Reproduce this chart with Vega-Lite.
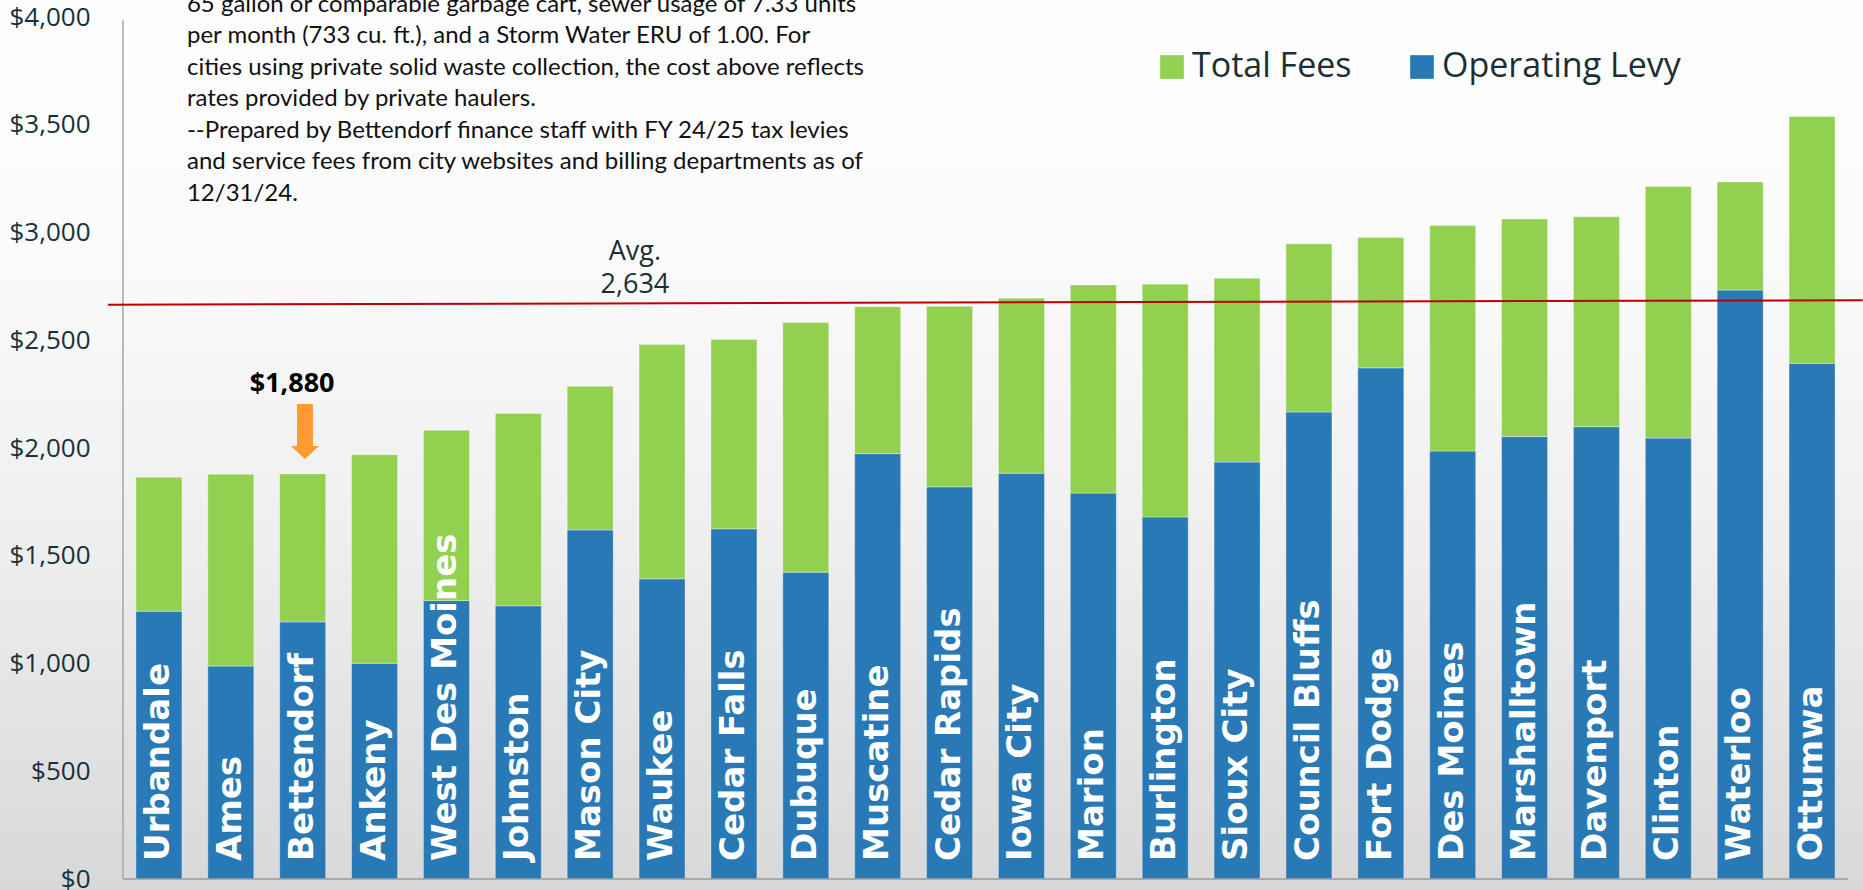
{
  "$schema": "https://vega.github.io/schema/vega-lite/v6.json",
  "width": 1863,
  "height": 890,
  "autosize": {"type": "none"},
  "padding": 0,
  "background": "#eeeeee",
  "config": {
    "view": {
      "stroke": null,
      "fill": {"gradient": "linear", "x1": 0, "y1": 0, "x2": 0, "y2": 1,
        "stops": [{"offset": 0, "color": "#fefefe"}, {"offset": 0.3, "color": "#fafafa"}, {"offset": 0.6, "color": "#efefef"}, {"offset": 1, "color": "#d8d8d8"}]}
    }
  },
  "datasets": {
    "costs": [
      {"city": "Urbandale", "component": "Operating Levy", "value": 1243},
      {"city": "Urbandale", "component": "Total Fees", "value": 621},
      {"city": "Ames", "component": "Operating Levy", "value": 988},
      {"city": "Ames", "component": "Total Fees", "value": 890},
      {"city": "Bettendorf", "component": "Operating Levy", "value": 1193},
      {"city": "Bettendorf", "component": "Total Fees", "value": 687},
      {"city": "Ankeny", "component": "Operating Levy", "value": 1001},
      {"city": "Ankeny", "component": "Total Fees", "value": 968},
      {"city": "West Des Moines", "component": "Operating Levy", "value": 1292},
      {"city": "West Des Moines", "component": "Total Fees", "value": 790},
      {"city": "Johnston", "component": "Operating Levy", "value": 1268},
      {"city": "Johnston", "component": "Total Fees", "value": 892},
      {"city": "Mason City", "component": "Operating Levy", "value": 1620},
      {"city": "Mason City", "component": "Total Fees", "value": 667},
      {"city": "Waukee", "component": "Operating Levy", "value": 1393},
      {"city": "Waukee", "component": "Total Fees", "value": 1087},
      {"city": "Cedar Falls", "component": "Operating Levy", "value": 1625},
      {"city": "Cedar Falls", "component": "Total Fees", "value": 879},
      {"city": "Dubuque", "component": "Operating Levy", "value": 1424},
      {"city": "Dubuque", "component": "Total Fees", "value": 1158},
      {"city": "Muscatine", "component": "Operating Levy", "value": 1974},
      {"city": "Muscatine", "component": "Total Fees", "value": 682},
      {"city": "Cedar Rapids", "component": "Operating Levy", "value": 1820},
      {"city": "Cedar Rapids", "component": "Total Fees", "value": 838},
      {"city": "Iowa City", "component": "Operating Levy", "value": 1883},
      {"city": "Iowa City", "component": "Total Fees", "value": 812},
      {"city": "Marion", "component": "Operating Levy", "value": 1791},
      {"city": "Marion", "component": "Total Fees", "value": 966},
      {"city": "Burlington", "component": "Operating Levy", "value": 1680},
      {"city": "Burlington", "component": "Total Fees", "value": 1080},
      {"city": "Sioux City", "component": "Operating Levy", "value": 1935},
      {"city": "Sioux City", "component": "Total Fees", "value": 853},
      {"city": "Council Bluffs", "component": "Operating Levy", "value": 2167},
      {"city": "Council Bluffs", "component": "Total Fees", "value": 781},
      {"city": "Fort Dodge", "component": "Operating Levy", "value": 2372},
      {"city": "Fort Dodge", "component": "Total Fees", "value": 605},
      {"city": "Des Moines", "component": "Operating Levy", "value": 1986},
      {"city": "Des Moines", "component": "Total Fees", "value": 1046},
      {"city": "Marshalltown", "component": "Operating Levy", "value": 2053},
      {"city": "Marshalltown", "component": "Total Fees", "value": 1010},
      {"city": "Davenport", "component": "Operating Levy", "value": 2099},
      {"city": "Davenport", "component": "Total Fees", "value": 974},
      {"city": "Clinton", "component": "Operating Levy", "value": 2046},
      {"city": "Clinton", "component": "Total Fees", "value": 1167},
      {"city": "Waterloo", "component": "Operating Levy", "value": 2733},
      {"city": "Waterloo", "component": "Total Fees", "value": 502},
      {"city": "Ottumwa", "component": "Operating Levy", "value": 2393},
      {"city": "Ottumwa", "component": "Total Fees", "value": 1145}
    ]
  },
  "data": {"name": "costs"},
  "layer": [
    {
      "mark": {"type": "bar", "stroke": "#ffffff", "strokeWidth": 1, "strokeOpacity": 0.35},
      "encoding": {
        "x": {"field": "city", "type": "nominal", "sort": null,
          "scale": {"domain": ["Urbandale","Ames","Bettendorf","Ankeny","West Des Moines","Johnston","Mason City","Waukee","Cedar Falls","Dubuque","Muscatine","Cedar Rapids","Iowa City","Marion","Burlington","Sioux City","Council Bluffs","Fort Dodge","Des Moines","Marshalltown","Davenport","Clinton","Waterloo","Ottumwa"],
            "range": [123, 1848], "paddingInner": 0.36, "paddingOuter": 0.18, "align": 0.5, "round": false},
          "axis": null},
        "y": {"field": "value", "type": "quantitative", "stack": "zero",
          "scale": {"domain": [-51, 4079], "nice": false, "zero": false},
          "axis": {"values": [0,500,1000,1500,2000,2500,3000,3500,4000], "format": "$,.0f", "title": null,
            "offset": -123, "domain": false, "grid": false, "ticks": false, "tickSize": 0, "labelPadding": 33,
            "labelFont": "Open Sans", "labelFontSize": 26, "labelColor": "#17323a"}},
        "color": {"field": "component", "type": "nominal",
          "scale": {"domain": ["Total Fees", "Operating Levy"], "range": ["#92d050", "#2879b5"]},
          "legend": {"title": null, "orient": "none", "legendX": 1155, "legendY": 50, "direction": "horizontal",
            "symbolType": "square", "symbolSize": 560, "symbolStrokeWidth": 0, "symbolOpacity": 1,
            "labelFont": "Open Sans", "labelFontSize": 34, "labelColor": "#1a3035", "labelOffset": 3, "labelLimit": 500,
            "columnPadding": 53, "padding": 0}},
        "order": {"field": "component", "sort": "ascending"}
      }
    },
    {
      "transform": [{"filter": "datum.component == 'Operating Levy'"}],
      "mark": {"type": "text", "angle": 270, "align": "left", "baseline": "middle", "font": "DejaVu Sans", "fontWeight": "bold", "fontSize": 34, "color": "#ffffff"},
      "encoding": {
        "x": {"field": "city", "type": "nominal", "sort": null, "bandPosition": 0.5},
        "y": {"datum": 84, "type": "quantitative"},
        "text": {"field": "city"}
      }
    },
    {
      "data": {"values": [{}]},
      "mark": {"type": "rule", "color": "#a6a6a6", "strokeWidth": 1.5},
      "encoding": {
        "x": {"datum": "Urbandale", "type": "nominal", "bandPosition": -0.283},
        "y": {"datum": 0, "type": "quantitative"},
        "y2": {"datum": 3985}
      }
    },
    {
      "data": {"values": [{}]},
      "mark": {"type": "rule", "color": "#9a9a9a", "strokeWidth": 1.5},
      "encoding": {
        "x": {"datum": "Urbandale", "type": "nominal", "bandPosition": -0.283},
        "x2": {"datum": "Ottumwa", "bandPosition": 1.283},
        "y": {"datum": 0, "type": "quantitative"}
      }
    },
    {
      "data": {"values": [{}]},
      "mark": {"type": "rule", "color": "#c00000", "strokeWidth": 2},
      "encoding": {
        "x": {"datum": "Urbandale", "type": "nominal", "bandPosition": -0.61},
        "x2": {"datum": "Ottumwa", "bandPosition": 1.6},
        "y": {"datum": 2665, "type": "quantitative"},
        "y2": {"datum": 2686}
      }
    },
    {
      "data": {"values": [{}]},
      "mark": {"type": "text", "align": "center", "baseline": "middle", "font": "Open Sans", "fontSize": 27, "lineHeight": 33, "color": "#1a3035",
        "text": ["Avg.", "2,634"]},
      "encoding": {
        "x": {"datum": "Waukee", "type": "nominal", "bandPosition": -0.09},
        "y": {"datum": 2909, "type": "quantitative"}
      }
    },
    {
      "data": {"values": [{}]},
      "mark": {"type": "text", "align": "center", "baseline": "middle", "font": "Open Sans", "fontWeight": "bold", "fontSize": 27, "color": "#000000", "text": "$1,880"},
      "encoding": {
        "x": {"datum": "Bettendorf", "type": "nominal", "bandPosition": 0.27},
        "y": {"datum": 2299, "type": "quantitative"}
      }
    },
    {
      "data": {"values": [{}]},
      "mark": {"type": "point", "filled": true, "opacity": 1, "color": "#ff9933", "size": 3025,
        "shape": "M-0.29,-1L0.29,-1L0.29,0.53L0.51,0.53L0,1L-0.51,0.53L-0.29,0.53Z"},
      "encoding": {
        "x": {"datum": "Bettendorf", "type": "nominal", "bandPosition": 0.55},
        "y": {"datum": 2077, "type": "quantitative"}
      }
    },
    {
      "data": {"values": [{}]},
      "mark": {"type": "text", "align": "left", "baseline": "middle", "font": "Lato", "fontSize": 24, "lineHeight": 31.5, "color": "#111111",
        "text": ["65 gallon or comparable garbage cart, sewer usage of 7.33 units", "per month (733 cu. ft.), and a Storm Water ERU of 1.00.  For", "cities using private solid waste collection, the cost above reflects", "rates provided by private haulers.", "--Prepared by Bettendorf finance staff with FY 24/25 tax levies", "and service fees from city websites and billing departments as of", "12/31/24."]},
      "encoding": {
        "x": {"datum": "Urbandale", "type": "nominal", "bandPosition": 1.109},
        "y": {"datum": 4056, "type": "quantitative"}
      }
    }
  ]
}
